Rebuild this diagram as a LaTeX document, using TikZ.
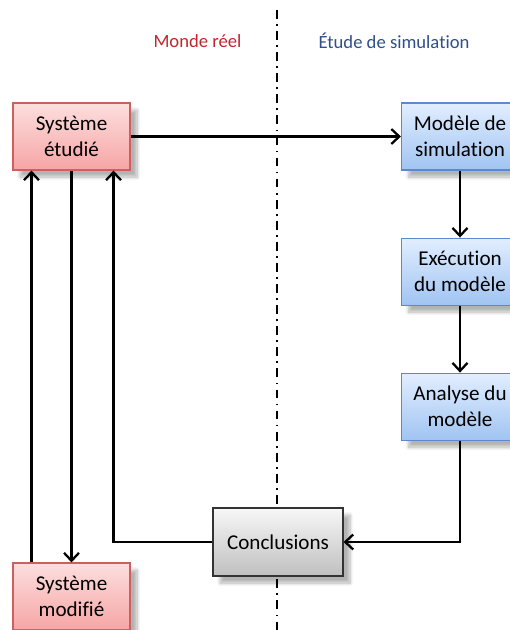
\documentclass[tikz,border=0pt]{standalone}
\usepackage{fontspec}
\setmainfont{Carlito}[Ligatures={NoCommon}]
\usepackage{xcolor}
\usetikzlibrary{arrows.meta,positioning,calc,shadows.blur}
\definecolor{reelred}{RGB}{192,39,45}
\definecolor{simblue}{RGB}{47,79,140}
\definecolor{redline}{RGB}{205,95,95}
\definecolor{blueline}{RGB}{95,135,205}
\definecolor{redtop}{RGB}{253,222,222}
\definecolor{redbot}{RGB}{246,165,165}
\definecolor{bluetop}{RGB}{226,238,255}
\definecolor{bluebot}{RGB}{160,196,242}

\begin{document}
\begin{tikzpicture}[
  node distance=1.34cm,
  box/.style={rectangle, align=center, line width=0.6pt,
    minimum width=2.34cm, minimum height=1.34cm,
    font=\fontsize{12}{14.7}\selectfont,
    blur shadow={shadow xshift=4pt, shadow yshift=-4pt, shadow blur steps=10, shadow opacity=30}},
  reel/.style={box, draw=redline, top color=redtop, bottom color=redbot},
  simul/.style={box, draw=blueline, top color=bluetop, bottom color=bluebot},
  bilan/.style={box, draw=black!80, top color=black!3, bottom color=black!25,
    minimum width=2.6cm, minimum height=1.36cm},
  arrow/.style={-{Straight Barb[length=1.6mm, width=3mm]}, line width=1.3pt, draw=black},
  side/.style={font=\fontsize{10.6}{13}\selectfont}
]
\useasboundingbox (0,0) rectangle (10.2,-12.6);

% frontiere
\draw[line width=1.1pt, dash pattern=on 5pt off 3pt on 1pt off 3pt] (5.54,-0.2) -- (5.54,-12.6);
\node[side, text=reelred] (monde) at (3.95,-0.82) {Monde réel};
\node[side, text=simblue] (etude) at (7.88,-0.82) {Étude de simulation};

% monde reel
\node[reel] (etudie) at (1.43,-2.73) {Système\\étudié};
\node[reel] (modifie) at (1.43,-11.93) {Système\\modifié};

% simulation
\node[simul] (modele) at (9.2,-2.73) {Modèle de\\simulation};
\node[simul, below=of modele] (execution) {Exécution\\du modèle};
\node[simul, below=of execution] (analyse) {Analyse du\\modèle};

\node[bilan] (conclusions) at (5.56,-10.84) {Conclusions};

\draw[arrow] (etudie) -- (modele);
\draw[arrow] (modele) -- (execution);
\draw[arrow] (execution) -- (analyse);
\draw[arrow] (analyse.south) |- (conclusions.east);
\draw[arrow] (conclusions.west) -| ([xshift=-0.34cm]etudie.south east);
\draw[arrow] (etudie.south) -- (modifie.north);
\draw[arrow] ([xshift=0.38cm]modifie.north west) -- ([xshift=0.38cm]etudie.south west);
\end{tikzpicture}
\end{document}
